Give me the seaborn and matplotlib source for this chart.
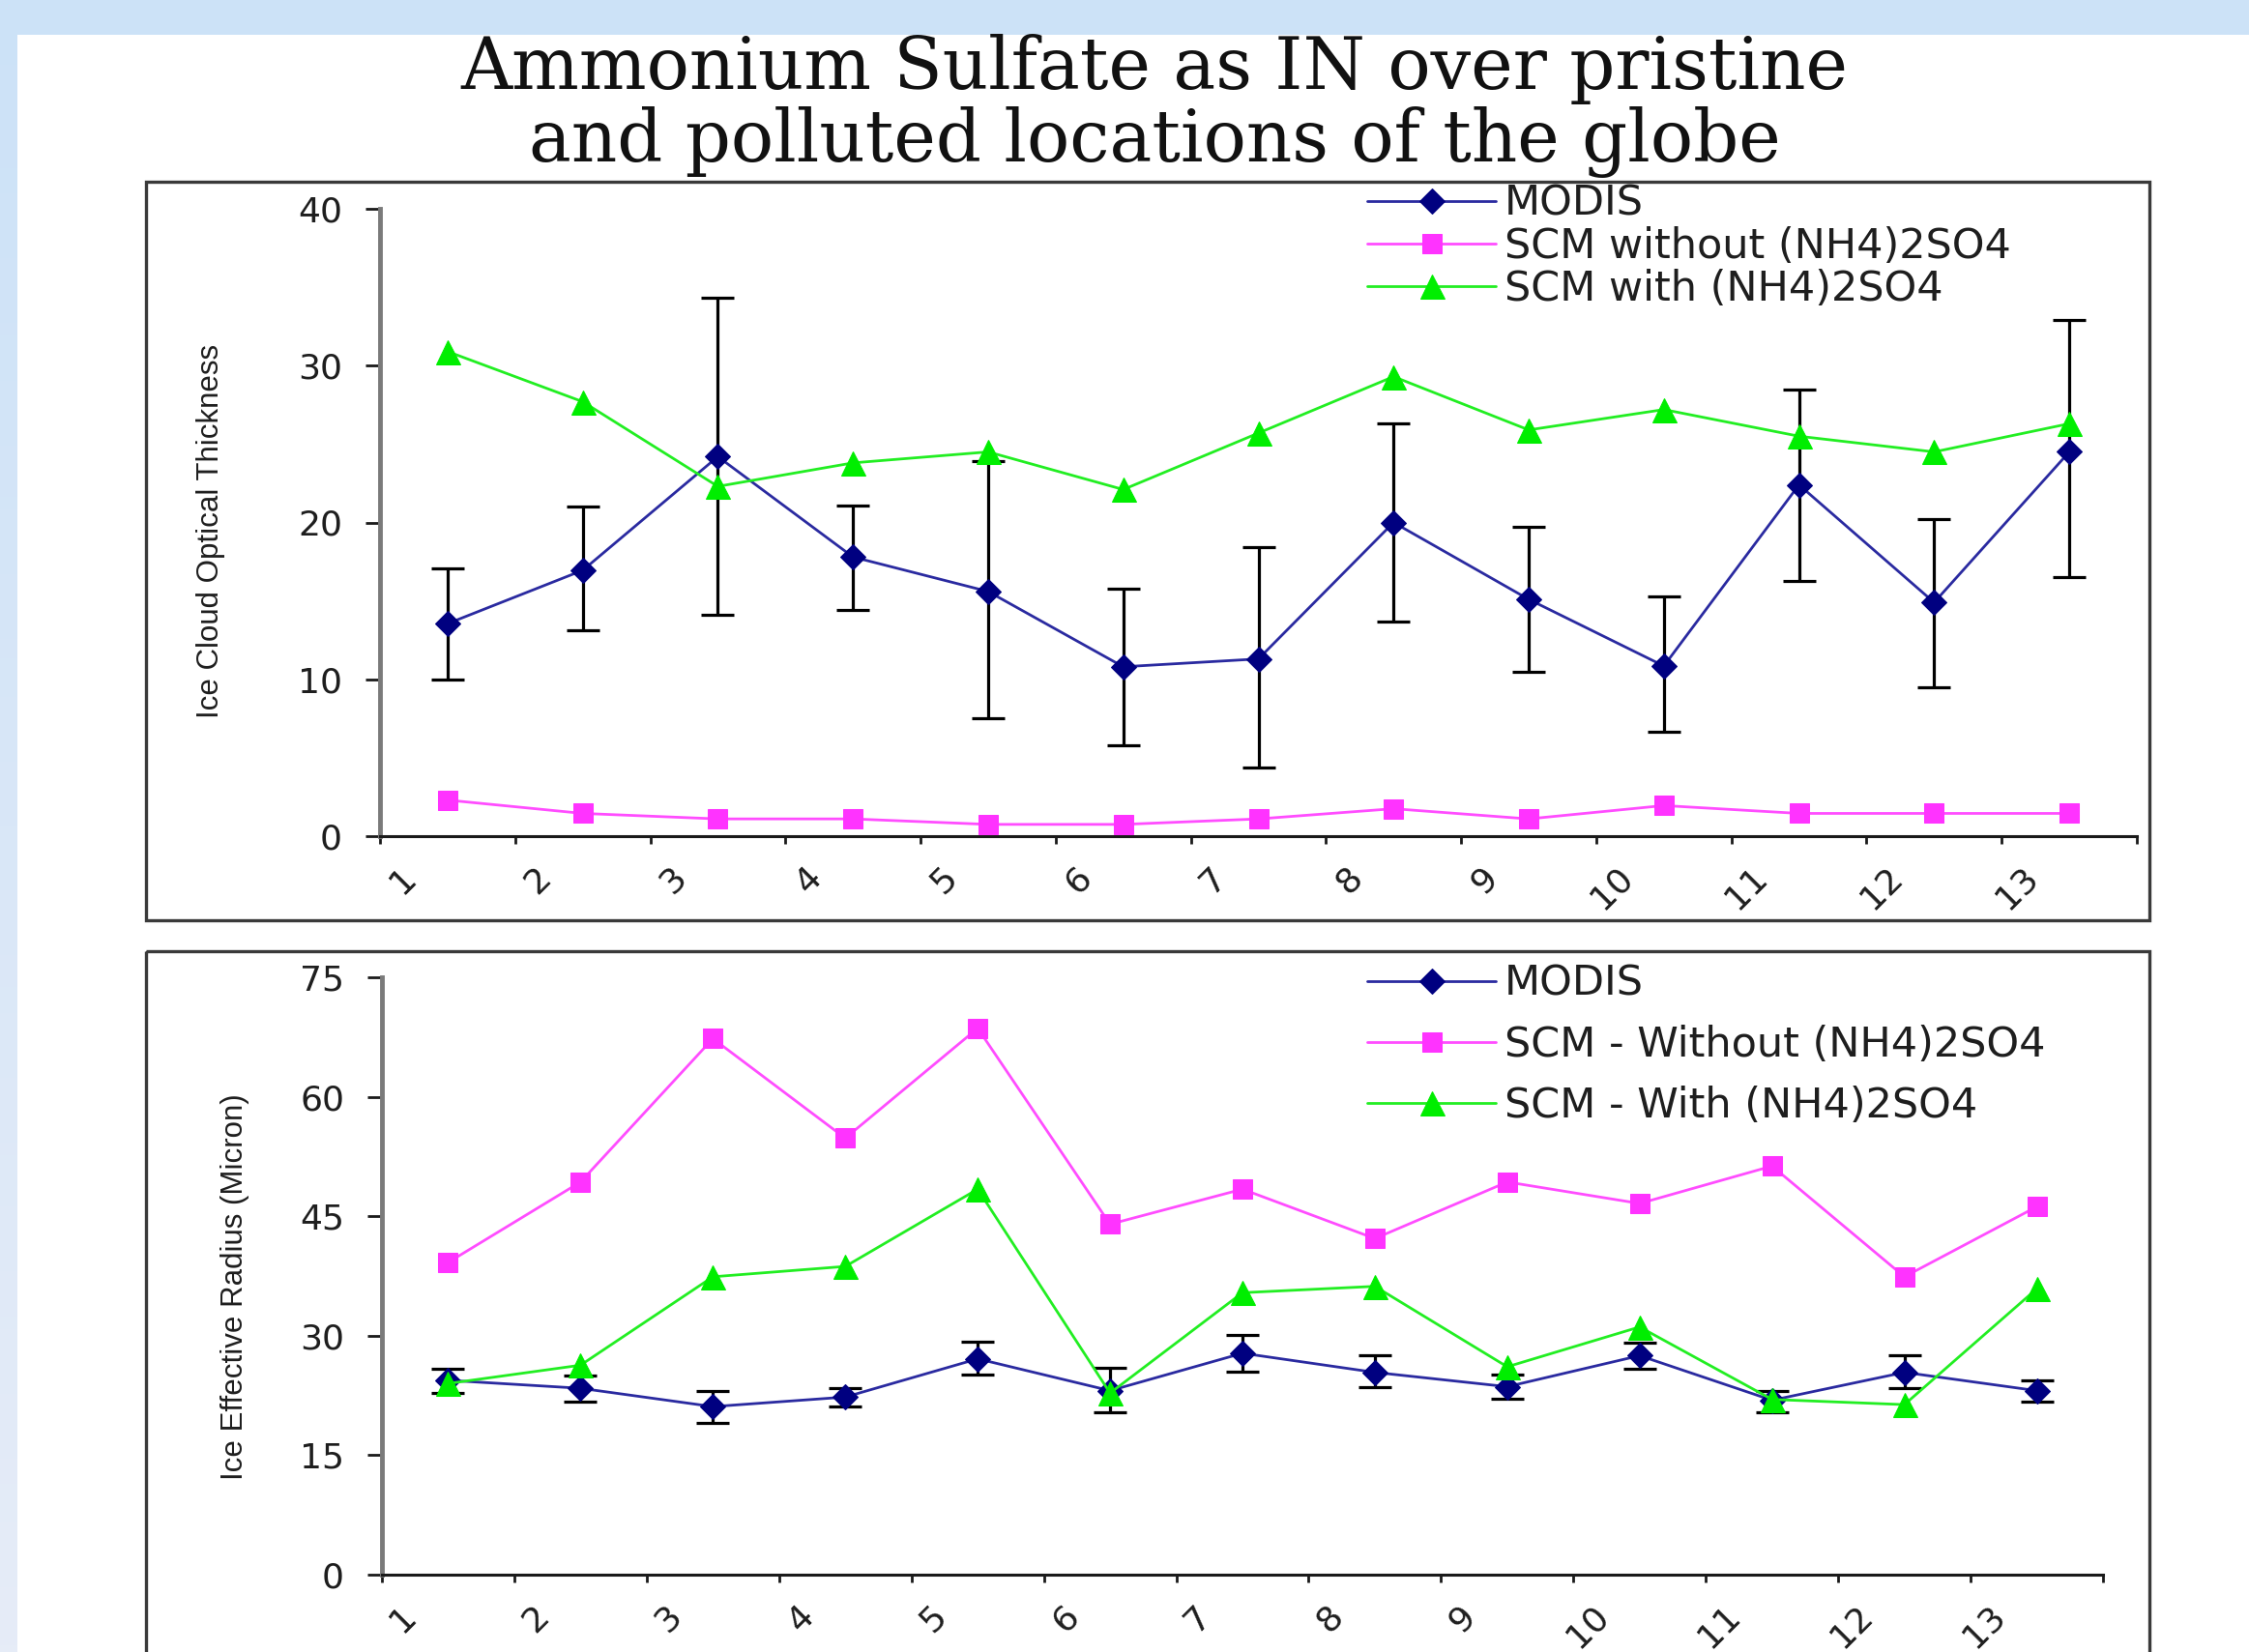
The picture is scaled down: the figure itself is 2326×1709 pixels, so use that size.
import numpy as np
import matplotlib
matplotlib.use("Agg")
import matplotlib.pyplot as plt
import seaborn as sns
from matplotlib.patches import Rectangle
from matplotlib.colors import LinearSegmentedColormap
from matplotlib.transforms import ScaledTranslation

# ---------------- data ----------------
categories = ["1", "2", "3", "4", "5", "6", "7", "8", "9", "10", "11", "12", "13"]

# Panel 1: Ice Cloud Optical Thickness
modis_cot = [13.55, 16.95, 24.2, 17.8, 15.6, 10.8, 11.3, 20.0, 15.1, 10.85, 22.4, 14.9, 24.5]
modis_cot_hi = [17.1, 21.0, 34.3, 21.1, 23.9, 15.8, 18.4, 26.3, 19.7, 15.3, 28.5, 20.2, 32.9]
modis_cot_lo = [10.0, 13.1, 14.1, 14.4, 7.5, 5.8, 4.4, 13.7, 10.5, 6.65, 16.3, 9.5, 16.5]
scm_without_cot = [2.3, 1.45, 1.1, 1.1, 0.75, 0.75, 1.1, 1.75, 1.1, 1.95, 1.45, 1.45, 1.45]
scm_with_cot = [30.9, 27.7, 22.3, 23.8, 24.5, 22.1, 25.7, 29.3, 25.9, 27.2, 25.5, 24.5, 26.3]
legend_cot = ["MODIS", "SCM without (NH4)2SO4", "SCM with (NH4)2SO4"]
yticks_cot = [0, 10, 20, 30, 40]

# Panel 2: Ice Effective Radius
modis_re = [24.4, 23.4, 21.1, 22.3, 27.1, 23.1, 27.8, 25.4, 23.6, 27.5, 21.9, 25.4, 23.1]
modis_re_hi = [25.8, 25.0, 23.1, 23.4, 29.2, 26.0, 30.05, 27.5, 25.1, 29.1, 23.1, 27.5, 24.4]
modis_re_lo = [22.8, 21.75, 19.1, 21.1, 25.1, 20.4, 25.5, 23.5, 22.1, 25.9, 20.4, 23.4, 21.75]
scm_without_re = [39.2, 49.3, 67.3, 54.8, 68.6, 44.0, 48.4, 42.2, 49.3, 46.6, 51.3, 37.4, 46.2]
scm_with_re = [24.0, 26.3, 37.4, 38.7, 48.4, 22.8, 35.4, 36.2, 26.1, 31.1, 22.0, 21.35, 35.9]
legend_re = ["MODIS", "SCM - Without (NH4)2SO4", "SCM - With (NH4)2SO4"]
yticks_re = [0, 15, 30, 45, 60, 75]

title_lines = ["Ammonium Sulfate as IN over pristine", "and polluted locations of the globe"]
ylabel_cot = "Ice Cloud Optical Thickness"
ylabel_re = "Ice Effective Radius (Micron)"

# ---------------- figure ----------------
W, H, DPI = 2326, 1709, 100
sns.set_theme(style="white")
plt.rcParams["font.family"] = ["DejaVu Sans"]

fig = plt.figure(figsize=(W / DPI, H / DPI), dpi=DPI)


def fx(px):
    return px / W


def fy(py):
    return 1 - py / H


# background (slide)
bg = fig.add_axes([0, 0, 1, 1], zorder=0)
bg.set_axis_off()
bg.set_xlim(0, W)
bg.set_ylim(H, 0)
grad = np.linspace(0, 1, 256)[:, None]
cmap = LinearSegmentedColormap.from_list("bgc", ["#cce2f7", "#e6ecf7"])
bg.imshow(grad, cmap=cmap, extent=[0, W, H, 0], aspect="auto")
bg.add_patch(Rectangle((18, 36), W - 18, H - 36, facecolor="white", edgecolor="none"))
bg.add_patch(Rectangle((151, 188), 2223 - 151, 952 - 188, fill=False,
                       edgecolor="#3a3a3a", lw=2.4))
bg.add_patch(Rectangle((151, 984), 2223 - 151, 900, fill=False,
                       edgecolor="#3a3a3a", lw=2.4))

fig.text(fx(1194), fy(92), title_lines[0], ha="center", va="baseline",
         fontsize=53, family="DejaVu Serif", color="#111111")
fig.text(fx(1194), fy(167), title_lines[1], ha="center", va="baseline",
         fontsize=53, family="DejaVu Serif", color="#111111")

ax1 = fig.add_axes([fx(393), fy(865), fx(2210) - fx(393), fy(216) - fy(865)], zorder=1)
ax2 = fig.add_axes([fx(395), fy(1629), fx(2175) - fx(395), fy(1011) - fy(1629)], zorder=1)

x = np.arange(len(categories))
TXT = "#1e1e1e"


def draw(ax, modis, hi, lo, without, with_, labels):
    modis = np.asarray(modis)
    hi = np.asarray(hi)
    lo = np.asarray(lo)
    ax.errorbar(x, modis, yerr=[modis - lo, hi - modis], fmt="none", ecolor="black",
                elinewidth=2.3, capsize=12, capthick=2.3, zorder=2)
    sns.lineplot(x=x, y=modis, ax=ax, color="#2a2aa0", linewidth=2.0, marker="D",
                 markersize=13, markerfacecolor="#000080", markeredgecolor="#000080",
                 label=labels[0], zorder=3, errorbar=None)
    sns.lineplot(x=x, y=without, ax=ax, color="#ff4dff", linewidth=2.0, marker="s",
                 markersize=14, markerfacecolor="#ff33ff", markeredgecolor="#ff33ff",
                 label=labels[1], zorder=3, errorbar=None)
    sns.lineplot(x=x, y=with_, ax=ax, color="#22ee22", linewidth=2.0, marker="^",
                 markersize=18, markerfacecolor="#00ee00", markeredgecolor="#00ee00",
                 label=labels[2], zorder=4, errorbar=None)


def style(ax, yticks, ylabel, label_xy):
    ax.set_facecolor("none")
    ax.set_xlim(-0.5, len(categories) - 0.5)
    ax.set_ylim(yticks[0], yticks[-1])
    ax.set_yticks(yticks)
    ax.set_xticks(np.arange(len(categories) + 1) - 0.5)
    ax.set_xticklabels([""] * (len(categories) + 1))
    ax.set_xticks(x, minor=True)
    ax.set_xticklabels(categories, minor=True)
    ax.tick_params(axis="x", which="major", direction="out", length=6, width=2,
                   color="#1a1a1a", bottom=True)
    ax.tick_params(axis="x", which="minor", length=0, pad=27, labelsize=26,
                   labelcolor=TXT, bottom=True, labelbottom=True)
    ax.tick_params(axis="y", direction="out", length=11, width=2, color="#1a1a1a",
                   labelsize=26, labelcolor=TXT, pad=17, left=True)
    off = ScaledTranslation(-38 / DPI, 0, fig.dpi_scale_trans)
    for lbl in ax.get_xticklabels(minor=True):
        lbl.set_rotation(45)
        lbl.set_ha("right")
        lbl.set_va("center")
        lbl.set_rotation_mode("anchor")
        lbl.set_transform(lbl.get_transform() + off)
    for s in ("top", "right"):
        ax.spines[s].set_visible(False)
    ax.spines["left"].set_color("#7a7a7a")
    ax.spines["left"].set_linewidth(3.5)
    ax.spines["bottom"].set_color("#1a1a1a")
    ax.spines["bottom"].set_linewidth(2.2)
    ax.set_xlabel("")
    ax.set_ylabel(ylabel, fontsize=22.5, family=["Liberation Sans"],
                  color=TXT, va="center")
    ax.yaxis.set_label_coords(*label_xy)


draw(ax1, modis_cot, modis_cot_hi, modis_cot_lo, scm_without_cot, scm_with_cot, legend_cot)
draw(ax2, modis_re, modis_re_hi, modis_re_lo, scm_without_re, scm_with_re, legend_re)
style(ax1, yticks_cot, ylabel_cot, ((218 - 393) / (2210 - 393), (865 - 549) / (865 - 216)))
style(ax2, yticks_re, ylabel_re, ((243 - 395) / (2175 - 395), (1629 - 1331) / (1629 - 1011)))

for ax, ycen, spacing in ((ax1, 255, 0.05), (ax2, 1081, 0.49)):
    h, l = ax.get_legend_handles_labels()
    leg = ax.legend(h, l, loc="center left", bbox_to_anchor=(fx(1414), fy(ycen)),
                    bbox_transform=fig.transFigure, frameon=False, fontsize=31,
                    handlelength=3.1, handletextpad=0.2, labelspacing=spacing,
                    borderpad=0, borderaxespad=0)
    for t in leg.get_texts():
        t.set_color(TXT)

fig.savefig("out.png", dpi=DPI)
